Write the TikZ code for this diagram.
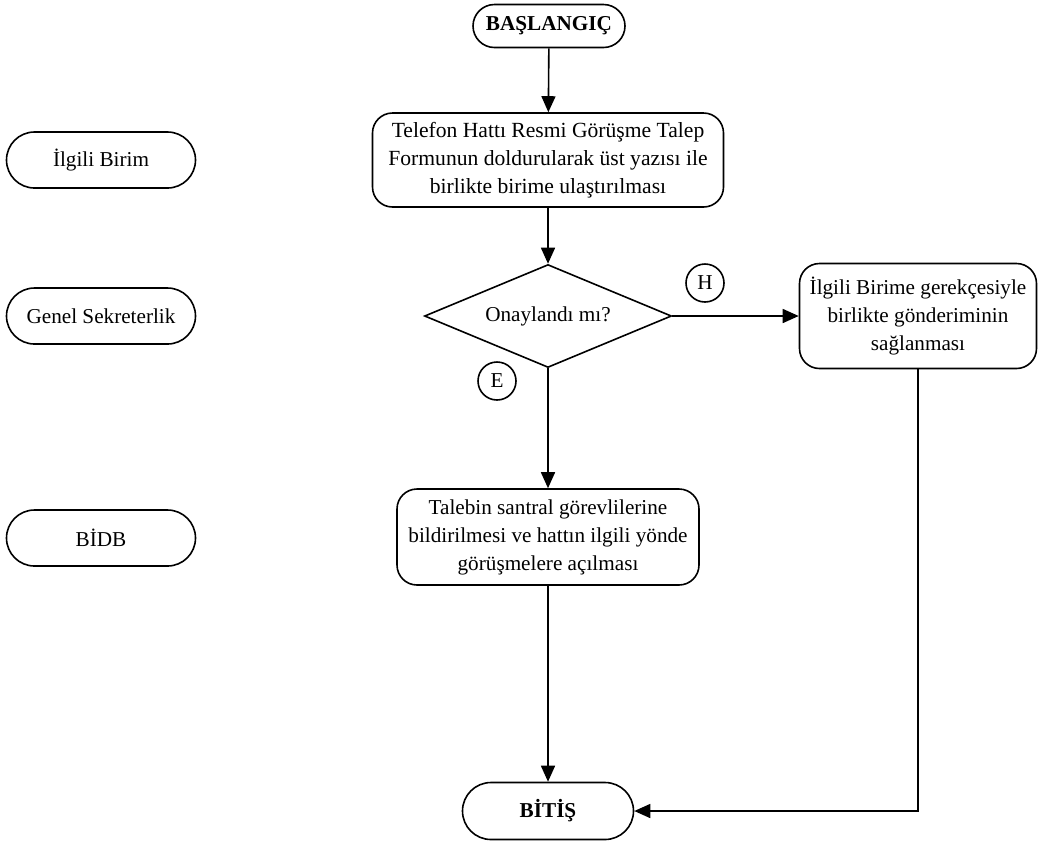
\documentclass[tikz,border=0pt]{standalone}
\usepackage{fontspec}
\setmainfont{Liberation Serif}
\usetikzlibrary{shapes.misc,shapes.geometric,arrows.meta}

\begin{document}
\begin{tikzpicture}[x=0.5pt,y=-0.5pt,line width=0.8pt,font=\fontsize{10.6}{14}\selectfont,
    terminal/.style={rounded rectangle,draw,font=\fontsize{10.6}{14}\selectfont\bfseries,minimum height=21.5pt,inner sep=0pt},
    unit/.style={rounded rectangle,draw,minimum width=94.5pt,minimum height=28pt,inner sep=0pt},
    process/.style={rectangle,rounded corners=10pt,draw,align=center,inner sep=2pt},
    decision/.style={diamond,draw,aspect=2.4,minimum width=123.5pt,minimum height=51.5pt,inner sep=0pt},
    answer/.style={circle,draw,minimum size=19pt,inner sep=0pt},
    flow/.style={-{Triangle[length=8pt,width=7pt]}}]
      \useasboundingbox (0,0) rectangle (1038,843);
      % units on the left
      \node[unit] (unit 1) at (101,160) {İlgili Birim};
      \node[unit] (unit 2) at (101,316) {Genel Sekreterlik};
      \node[unit] (unit 3) at (101,538) {BİDB};
      % main flow
      \node[terminal,minimum width=76pt] (start) at (549,26) {BAŞLANGIÇ};
      \node[process,minimum width=175.5pt,minimum height=47pt,font=\fontsize{10.8}{14}\selectfont] (step 1) at (548,160) {Telefon Hattı Resmi Görüşme Talep\\Formunun doldurularak üst yazısı ile\\birlikte birime ulaştırılması};
      \node[decision] (check) at (548,316) {Onaylandı mı?};
      \node[process,minimum width=118.5pt,minimum height=52.5pt] (step 2) at (918,316) {İlgili Birime gerekçesiyle\\birlikte gönderiminin\\sağlanması};
      \node[process,minimum width=151pt,minimum height=48pt] (step 3) at (548,537) {Talebin santral görevlilerine\\bildirilmesi ve hattın ilgili yönde\\görüşmelere açılması};
      \node[terminal,minimum width=85.5pt,minimum height=28.5pt] (end) at (548,811) {BİTİŞ};
      \node[answer] (no) at (705,283) {H};
      \node[answer] (yes) at (497,381) {E};
      \coordinate (corner) at (step 2.south |- end.east);
      \draw[flow] (start) -- (step 1);
      \draw[flow] (step 1) -- (check);
      \draw[flow] (check.east) -- (step 2.west);
      \draw[flow] (check.south) -- (step 3.north);
      \draw[flow] (step 3) -- (end);
      \draw[flow] (step 2.south) -- (corner) -- (end.east);
    \end{tikzpicture}
\end{document}
